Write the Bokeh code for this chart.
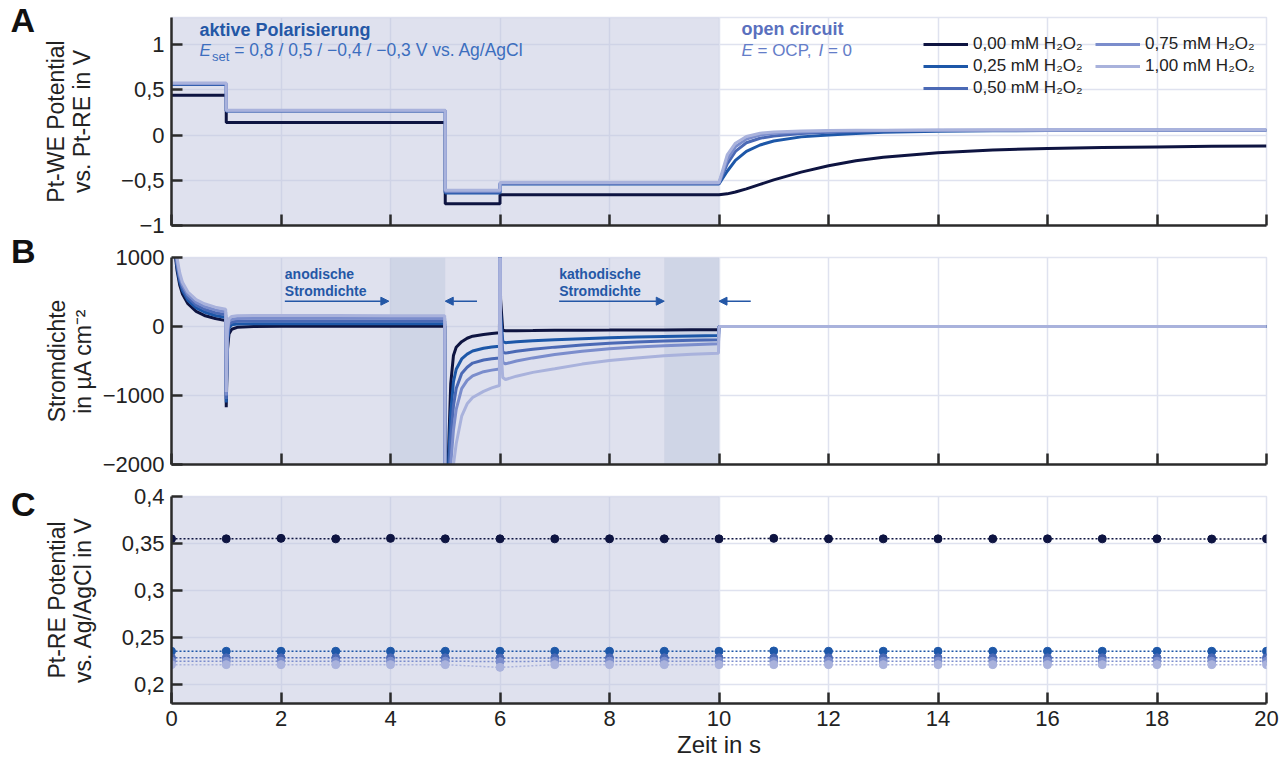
from bokeh.plotting import figure
from bokeh.layouts import column, row
from bokeh.models import (Range1d, FixedTicker, BoxAnnotation, Label, Arrow,
                          NormalHead, Legend, LegendItem)
from bokeh.core.properties import value
from bokeh.embed import file_html
from bokeh.resources import INLINE

FONT = "Liberation Sans"
INK = "#222222"
AXIS = "#2b2b2b"
GRID = "#dfe2ef"

# ---------------- data ----------------
concentrations = ["0,00", "0,25", "0,50", "0,75", "1,00"]
series_colors = ["#0e1441", "#1d57a8", "#4b69b5", "#7b8dcc", "#a9b2dc"]
legend_labels = [c + " mM H\u2082O\u2082" for c in concentrations]

x_ticks = [0, 2, 4, 6, 8, 10, 12, 14, 16, 18, 20]

# Panel A: Pt-WE potential vs Pt-RE (V)
time_A = [0.0, 1.0, 1.0, 5.0, 5.0, 6.0, 6.0, 10.0, 10.15, 10.3, 10.5, 10.75,
          11.0, 11.5, 12.0, 12.5, 13.0, 14.0, 15.0, 16.0, 17.0, 18.0, 19.0, 20.0]
we_000 = [0.44, 0.44, 0.14, 0.14, -0.76, -0.76, -0.66, -0.66, -0.65, -0.63, -0.595, -0.545,
          -0.495, -0.41, -0.34, -0.285, -0.245, -0.195, -0.165, -0.148, -0.138, -0.131, -0.125, -0.12]
we_025 = [0.56, 0.56, 0.265, 0.265, -0.64, -0.64, -0.54, -0.54, -0.40, -0.28, -0.18, -0.11,
          -0.065, -0.02, 0.0, 0.018, 0.03, 0.043, 0.048, 0.05, 0.05, 0.05, 0.05, 0.05]
we_050 = [0.565, 0.565, 0.268, 0.268, -0.63, -0.63, -0.535, -0.535, -0.32, -0.18, -0.085, -0.035,
          -0.01, 0.018, 0.032, 0.04, 0.045, 0.05, 0.052, 0.053, 0.053, 0.053, 0.053, 0.053]
we_075 = [0.57, 0.57, 0.27, 0.27, -0.62, -0.62, -0.53, -0.53, -0.27, -0.13, -0.045, 0.0,
          0.02, 0.035, 0.043, 0.048, 0.05, 0.053, 0.054, 0.055, 0.055, 0.055, 0.055, 0.055]
we_100 = [0.575, 0.575, 0.275, 0.275, -0.61, -0.61, -0.525, -0.525, -0.22, -0.09, -0.015, 0.02,
          0.035, 0.045, 0.05, 0.052, 0.054, 0.055, 0.056, 0.056, 0.056, 0.056, 0.056, 0.056]
we_series = [we_000, we_025, we_050, we_075, we_100]

# Panel B: current density (uA cm^-2)
time_B = [0.0, 0.03, 0.06, 0.1, 0.15, 0.2, 0.3, 0.45, 0.6, 0.8, 0.99,
          1.0, 1.02, 1.05, 1.1, 1.2, 1.5, 2.0, 3.0, 4.0, 4.99,
          5.0, 5.03, 5.06, 5.1, 5.15, 5.2, 5.3, 5.4, 5.5, 5.7, 5.85, 5.99,
          6.0, 6.01, 6.05, 6.1, 6.3, 6.6, 7.0, 7.5, 8.0, 8.5, 9.0, 9.5, 9.99,
          10.0, 20.0]
j_000 = [3000, 1600, 1100, 820, 600, 470, 330, 220, 160, 115, 85,
         -1170, -350, -110, -40, -12, 0, 3, 4, 5, 5,
         -5000, -3000, -1800, -830, -420, -300, -220, -170, -140, -115, -100, -92,
         3000, 400, -55, -60, -60, -58, -55, -53, -52, -50, -49, -48, -48,
         0, 0]
j_025 = [3000, 1650, 1150, 870, 650, 520, 380, 270, 210, 160, 130,
         -1100, -250, -20, 25, 35, 40, 40, 40, 40, 40,
         -5000, -3000, -2000, -1250, -800, -620, -470, -400, -355, -315, -298, -285,
         3000, 200, -220, -235, -222, -207, -193, -176, -164, -153, -144, -137, -130,
         0, 0]
j_050 = [3000, 1700, 1200, 910, 690, 560, 420, 310, 250, 200, 170,
         -1050, -180, 30, 65, 75, 80, 80, 80, 80, 78,
         -5000, -3300, -2300, -1600, -1150, -900, -680, -590, -530, -485, -468, -455,
         3000, 100, -370, -386, -360, -330, -299, -268, -241, -225, -211, -201, -193,
         0, 0]
j_075 = [3000, 1750, 1250, 950, 730, 600, 460, 350, 290, 240, 210,
         -1000, -110, 75, 105, 115, 120, 120, 120, 118, 117,
         -5000, -3600, -2700, -2000, -1500, -1200, -900, -780, -715, -655, -632, -615,
         3000, 0, -520, -541, -500, -455, -406, -360, -323, -298, -278, -263, -251,
         0, 0]
j_100 = [3000, 1800, 1300, 1000, 780, 640, 500, 390, 330, 280, 250,
         -950, -50, 110, 145, 155, 160, 160, 158, 156, 155,
         -5000, -4000, -3100, -2500, -2000, -1700, -1300, -1120, -1030, -940, -890, -855,
         3000, -200, -740, -768, -720, -665, -613, -545, -493, -455, -425, -403, -386,
         0, 0]
j_series = [j_000, j_025, j_050, j_075, j_100]

# Panel C: Pt-RE potential vs Ag/AgCl (V)
time_C = [0, 1, 2, 3, 4, 5, 6, 7, 8, 9, 10, 11, 12, 13, 14, 15, 16, 17, 18, 19, 20]
re_000 = [0.355, 0.355, 0.3555, 0.355, 0.3555, 0.355, 0.355, 0.355, 0.355, 0.355, 0.355,
          0.3555, 0.355, 0.355, 0.355, 0.355, 0.355, 0.355, 0.355, 0.3548, 0.355]
re_025 = [0.2355, 0.2355, 0.2355, 0.2355, 0.2355, 0.2355, 0.2355, 0.2355, 0.2355, 0.2355, 0.2355,
          0.2358, 0.2355, 0.2355, 0.2355, 0.2355, 0.2355, 0.2355, 0.2355, 0.2355, 0.2355]
re_050 = [0.2285, 0.2285, 0.2285, 0.2285, 0.2285, 0.2285, 0.2283, 0.2285, 0.2285, 0.2285, 0.2285,
          0.2285, 0.2285, 0.2285, 0.2285, 0.2285, 0.2285, 0.2285, 0.2285, 0.2285, 0.2285]
re_075 = [0.2250, 0.2250, 0.2250, 0.2250, 0.2250, 0.2250, 0.2245, 0.2250, 0.2250, 0.2250, 0.2250,
          0.2250, 0.2250, 0.2250, 0.2250, 0.2250, 0.2250, 0.2250, 0.2250, 0.2250, 0.2250]
re_100 = [0.2213, 0.2213, 0.2213, 0.2213, 0.2213, 0.2213, 0.2184, 0.2213, 0.2213, 0.2213, 0.2213,
          0.2213, 0.2213, 0.2213, 0.2213, 0.2213, 0.2213, 0.2213, 0.2213, 0.2213, 0.2213]
re_series = [re_000, re_025, re_050, re_075, re_100]

yticks_A = [-1, -0.5, 0, 0.5, 1]
ylabels_A = ["\u22121", "\u22120,5", "0", "0,5", "1"]
yticks_B = [-2000, -1000, 0, 1000]
ylabels_B = ["\u22122000", "\u22121000", "0", "1000"]
yticks_C = [0.2, 0.25, 0.3, 0.35, 0.4]
ylabels_C = ["0,2", "0,25", "0,3", "0,35", "0,4"]

panel_letters = ["A", "B", "C"]

# ---------------- figures ----------------
x_range = Range1d(0, 20)
TOTAL_W = 1282
TOTAL_H = 763
FRAME_LEFT = 171
LW = 35          # width of the strip holding the panel letters
TITLE_GAP = 17   # space taken by the (empty) default title of the letter strip


def make_fig(height, y_range, top, bottom):
    p = figure(width=TOTAL_W - LW, height=height, x_range=x_range, y_range=y_range,
               output_backend="svg", toolbar_location=None, title=None,
               min_border_left=FRAME_LEFT - LW, min_border_right=16,
               min_border_top=top, min_border_bottom=bottom)
    p.background_fill_color = "white"
    p.border_fill_color = "white"
    p.outline_line_color = "#e1e4f0"
    p.outline_line_width = 1.5
    return p


def style_axes(p, yticks, ylabels, ylabel, label_standoff, show_x):
    p.xaxis.ticker = FixedTicker(ticks=x_ticks)
    p.yaxis.ticker = FixedTicker(ticks=yticks)
    p.yaxis.major_label_overrides = {t: l for t, l in zip(yticks, ylabels)}
    if not show_x:
        p.xaxis.major_label_overrides = {t: "" for t in x_ticks}
    for ax in (p.xaxis[0], p.yaxis[0]):
        ax.axis_line_color = AXIS
        ax.axis_line_width = 2.5
        ax.major_tick_line_color = AXIS
        ax.major_tick_line_width = 2.5
        ax.major_tick_in = 11
        ax.major_tick_out = 0
        ax.minor_tick_line_color = None
        ax.major_label_text_font = FONT
        ax.major_label_text_font_size = "22px"
        ax.major_label_text_color = INK
        ax.major_label_standoff = 7
        ax.axis_label_text_font = FONT
        ax.axis_label_text_font_size = "23px"
        ax.axis_label_text_font_style = "normal"
        ax.axis_label_text_color = INK
    p.yaxis.axis_label = ylabel
    p.yaxis.axis_label_standoff = label_standoff
    p.yaxis[0].axis_label_text_line_height = 1.0
    for g in (p.xgrid[0], p.ygrid[0]):
        g.grid_line_color = GRID
        g.grid_line_width = 1.5
    p.xgrid.ticker = FixedTicker(ticks=x_ticks)
    p.ygrid.ticker = FixedTicker(ticks=yticks)


def shade(p, dark_spans=()):
    p.add_layout(BoxAnnotation(left=0, right=10, fill_color="#bfc3de", fill_alpha=0.5,
                               line_color=None, level="underlay"))
    for a, b in dark_spans:
        p.add_layout(BoxAnnotation(left=a, right=b, fill_color="#bfc9dd", fill_alpha=0.5,
                                   line_color=None, level="underlay"))


# ----- Panel A -----
pA = make_fig(240, Range1d(-1, 1.3), 17, 15)
style_axes(pA, yticks_A, ylabels_A, "Pt-WE Potential\nvs. Pt-RE in V", 23, False)
shade(pA)
rA = []
for vals, col in zip(we_series, series_colors):
    rA.append(pA.line(time_A, vals, line_color=col, line_width=3))

leg_common = dict(glyph_width=45, glyph_height=20, label_height=20, label_standoff=5,
                  spacing=2, padding=0, margin=0, border_line_color=None,
                  background_fill_alpha=0, label_text_font=FONT,
                  label_text_font_size="17px", label_text_color=INK)
leg1 = Legend(items=[LegendItem(label=legend_labels[i], renderers=[rA[i]]) for i in range(3)],
              location=(752, 127), **leg_common)
leg2 = Legend(items=[LegendItem(label=legend_labels[i], renderers=[rA[i]]) for i in (3, 4)],
              location=(924, 149), **leg_common)
pA.add_layout(leg1)
pA.add_layout(leg2)

HEAD_BLUE = "#2457a6"
pA.add_layout(Label(x=0.511, y=1.056, text="aktive Polarisierung", text_font=FONT,
                    text_font_size="18px", text_font_style="bold", text_color=HEAD_BLUE))
ESET_BLUE = "#3c6ebe"
pA.add_layout(Label(x=0.511, y=0.833, text="E", text_font=FONT, text_font_size="17px",
                    text_font_style="italic", text_color=ESET_BLUE))
pA.add_layout(Label(x=0.74, y=0.79, text="set", text_font=FONT, text_font_size="13px",
                    text_color=ESET_BLUE))
pA.add_layout(Label(x=1.145, y=0.833, text="= 0,8 / 0,5 / \u22120,4 / \u22120,3 V vs. Ag/AgCl",
                    text_font=FONT, text_font_size="17.5px", text_color=ESET_BLUE))
OC_BLUE = "#5a70be"
OCP_BLUE = "#647dc8"
pA.add_layout(Label(x=10.411, y=1.062, text="open circuit", text_font=FONT,
                    text_font_size="18px", text_font_style="bold", text_color=OC_BLUE))
pA.add_layout(Label(x=10.411, y=0.833, text="E", text_font=FONT, text_font_size="17px",
                    text_font_style="italic", text_color=OCP_BLUE))
pA.add_layout(Label(x=10.703, y=0.833, text="= OCP,", text_font=FONT, text_font_size="17px",
                    text_color=OCP_BLUE))
pA.add_layout(Label(x=11.817, y=0.833, text="I", text_font=FONT, text_font_size="17px",
                    text_font_style="italic", text_color=OCP_BLUE))
pA.add_layout(Label(x=11.989, y=0.833, text="= 0", text_font=FONT, text_font_size="17px",
                    text_color=OCP_BLUE))

# ----- Panel B -----
pB = make_fig(240, Range1d(-2000, 1000), 17, 16)
style_axes(pB, yticks_B, ylabels_B, "Stromdichte\nin \u00b5A cm\u207b\u00b2", 4, False)
shade(pB, dark_spans=[(4, 5), (9, 10)])
for vals, col in zip(j_series, series_colors):
    pB.line(time_B, vals, line_color=col, line_width=3)

for tx, txt in ((2.07, "anodische\nStromdichte"), (7.08, "kathodische\nStromdichte")):
    pB.add_layout(Label(x=tx, y=884, text=txt, text_font=FONT, text_font_size="14px",
                        text_font_style="bold", text_color=HEAD_BLUE, text_baseline="top",
                        text_line_height=1.1))
arrow_y = 367
for xs, xe in ((2.07, 3.97), (5.58, 5.0), (7.08, 9.0), (10.58, 10.0)):
    pB.add_layout(Arrow(x_start=xs, y_start=arrow_y, x_end=xe, y_end=arrow_y,
                        line_color=HEAD_BLUE, line_width=1.5,
                        end=NormalHead(size=8, fill_color=HEAD_BLUE, line_color=HEAD_BLUE)))

# ----- Panel C -----
pC = make_fig(283, Range1d(0.18, 0.4), 16, 60)
style_axes(pC, yticks_C, ylabels_C, "Pt-RE Potential\nvs. Ag/AgCl in V", 23, True)
pC.xaxis.axis_label = "Zeit in s"
pC.xaxis.axis_label_standoff = 2
pC.xaxis.axis_label_text_font_size = "24px"
shade(pC)
for vals, col in zip(re_series, series_colors):
    pC.line(time_C, vals, line_color=col, line_width=1.5, line_dash="2 2")
    pC.scatter(time_C, vals, size=8, fill_color=col, line_color=col)

# ----- letter strip (page-pixel coordinates, y downwards) -----
letter_x = [10, 10.5, 10.5]
letter_top = [17.5, 243.6, 490.6]
lf = figure(width=LW, height=TOTAL_H, x_range=Range1d(0, LW),
            y_range=Range1d(TOTAL_H, TITLE_GAP),
            x_axis_type=None, y_axis_type=None, output_backend="svg",
            toolbar_location=None, min_border=0)
lf.outline_line_color = None
lf.border_fill_color = "white"
lf.background_fill_color = "white"
lf.text(x=letter_x, y=letter_top, text=panel_letters, text_font=value(FONT),
        text_font_size=value("34px"), text_font_style=value("bold"), text_color="#111111",
        text_baseline=value("top"), text_align=value("left"))

layout = row(lf, column(pA, pB, pC))
open("out.html", "w").write(file_html(layout, INLINE))
